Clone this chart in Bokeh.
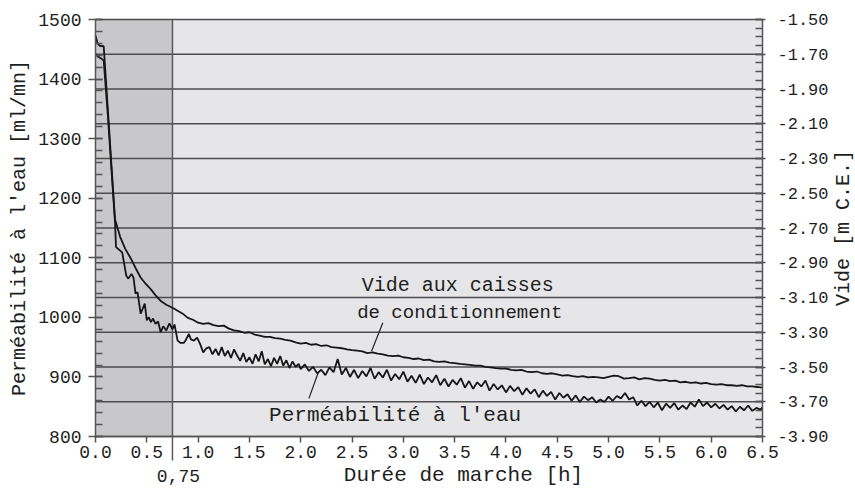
import math
from bokeh.plotting import figure
from bokeh.models import (Range1d, LinearAxis, FixedTicker, PrintfTickFormatter,
                          BoxAnnotation, Label)
from bokeh.embed import file_html
from bokeh.resources import INLINE

# ---------------- data ----------------
x_ticks = [0.0, 0.5, 1.0, 1.5, 2.0, 2.5, 3.0, 3.5, 4.0, 4.5, 5.0, 5.5, 6.0, 6.5]
perm_ticks = [800, 900, 1000, 1100, 1200, 1300, 1400, 1500]
vide_ticks = [-3.90, -3.70, -3.50, -3.30, -3.10, -2.90, -2.70, -2.50,
              -2.30, -2.10, -1.90, -1.70, -1.50]
split_h = 0.75          # boundary of the shaded start-up zone
split_label = "0,75"

# Perméabilité à l'eau [ml/mn]
perm_h = [0.00, 0.03, 0.06, 0.08, 0.12, 0.16, 0.19, 0.20, 0.26, 0.30,
          0.32, 0.35, 0.37, 0.39, 0.41, 0.44, 0.48, 0.50, 0.52, 0.54,
          0.56, 0.585, 0.61, 0.635, 0.66, 0.69, 0.72, 0.75, 0.77, 0.80,
          0.83, 0.86, 0.88, 0.91, 0.93, 0.96, 0.99,
          1.02, 1.05, 1.08, 1.11, 1.14, 1.17, 1.20, 1.23, 1.26, 1.29,
          1.32, 1.35, 1.38, 1.41, 1.44, 1.47, 1.50, 1.53, 1.56, 1.59,
          1.62, 1.65, 1.68, 1.71, 1.74, 1.77, 1.80, 1.83, 1.86, 1.89,
          1.92, 1.95, 1.98,
          2.00, 2.04, 2.08, 2.12, 2.16, 2.20, 2.24, 2.28, 2.32, 2.36,
          2.40, 2.44, 2.48, 2.52, 2.56, 2.60, 2.64, 2.68, 2.72, 2.76,
          2.80, 2.84, 2.88, 2.92, 2.96, 3.00, 3.04, 3.08, 3.12, 3.16,
          3.20, 3.24, 3.28, 3.32, 3.36, 3.40, 3.44, 3.48, 3.52, 3.56,
          3.60, 3.64, 3.68, 3.72, 3.76, 3.80, 3.84, 3.88, 3.92, 3.96,
          4.00, 4.04, 4.08, 4.12, 4.16, 4.20, 4.24, 4.28, 4.32, 4.36,
          4.40, 4.44, 4.48, 4.52, 4.56, 4.60, 4.64, 4.68, 4.72, 4.76,
          4.80, 4.84, 4.88, 4.92, 4.96, 5.00, 5.04, 5.08, 5.12, 5.16,
          5.20, 5.24, 5.28, 5.32, 5.36, 5.40, 5.44, 5.48, 5.52, 5.56,
          5.60, 5.64, 5.68, 5.72, 5.76, 5.80, 5.84, 5.88, 5.92, 5.96,
          6.00, 6.04, 6.08, 6.12, 6.16, 6.20, 6.24, 6.28, 6.32, 6.36,
          6.40, 6.44, 6.48, 6.50]
perm_ml = [1442, 1437, 1434, 1431, 1340, 1236, 1160, 1118, 1109, 1070,
           1065, 1073, 1067, 1040, 1042, 1006, 1023, 995, 1000, 992,
           998, 989, 993, 975, 985, 978, 990, 980, 988, 961,
           957, 957, 962, 972, 963, 961, 966,
           955, 941, 948, 950, 938, 947, 936, 950, 935, 944,
           932, 946, 936, 927, 940, 925, 933, 922, 938, 926,
           943, 921, 930, 918, 932, 922, 935, 919, 928, 915,
           926, 917, 922,
           913, 921, 910, 917, 906, 912, 903, 916, 908, 930,
           904, 915, 900, 912, 898, 910, 901, 915, 897, 908,
           899, 912, 894, 905, 896, 909, 892, 902, 890, 904,
           888, 899, 891, 903, 886, 897, 884, 895, 887, 898,
           882, 893, 880, 891, 884, 894, 877, 888, 879, 886,
           874, 885, 876, 883, 870, 881, 872, 879, 866, 877,
           868, 875, 862, 873, 865, 871, 860, 869, 858, 867,
           861, 866, 857, 862, 858, 867, 860, 868, 864, 873,
           862, 866, 852, 860, 851, 858, 849, 857, 844, 855,
           848, 856, 845, 852, 846, 857, 850, 862, 851, 857,
           849, 855, 847, 853, 845, 851, 842, 850, 844, 852,
           843, 848, 845, 849]

# Vide aux caisses de conditionnement [m C.E.]
vide_h = [0.00, 0.02, 0.04, 0.08, 0.12, 0.16, 0.19, 0.24, 0.29, 0.34,
          0.39, 0.44, 0.49, 0.54, 0.59, 0.64, 0.69, 0.75,
          0.80, 0.85, 0.90, 0.95, 1.00, 1.05, 1.10, 1.15, 1.20, 1.25,
          1.30, 1.35, 1.40, 1.45, 1.50, 1.55, 1.60, 1.65, 1.70, 1.75,
          1.80, 1.85, 1.90, 1.95, 2.00, 2.05, 2.10, 2.15, 2.20, 2.25,
          2.30, 2.35, 2.40, 2.45, 2.50, 2.55, 2.60, 2.65, 2.70, 2.75,
          2.80, 2.85, 2.90, 2.95, 3.00, 3.05, 3.10, 3.15, 3.20, 3.25,
          3.30, 3.35, 3.40, 3.45, 3.50, 3.55, 3.60, 3.65, 3.70, 3.75,
          3.80, 3.85, 3.90, 3.95, 4.00, 4.05, 4.10, 4.15, 4.20, 4.25,
          4.30, 4.35, 4.40, 4.45, 4.50, 4.55, 4.60, 4.65, 4.70, 4.75,
          4.80, 4.85, 4.90, 4.95, 5.00, 5.05, 5.10, 5.15, 5.20, 5.25,
          5.30, 5.35, 5.40, 5.45, 5.50, 5.55, 5.60, 5.65, 5.70, 5.75,
          5.80, 5.85, 5.90, 5.95, 6.00, 6.05, 6.10, 6.15, 6.20, 6.25,
          6.30, 6.35, 6.40, 6.45, 6.50]
vide_m = [-1.593, -1.637, -1.651, -1.654, -2.014, -2.378, -2.649, -2.751, -2.820, -2.871,
          -2.930, -2.985, -3.022, -3.053, -3.091, -3.122, -3.142, -3.159,
          -3.176, -3.193, -3.217, -3.228, -3.245, -3.252, -3.248, -3.259, -3.265, -3.262,
          -3.279, -3.289, -3.293, -3.303, -3.300, -3.313, -3.320, -3.327, -3.327, -3.334,
          -3.337, -3.344, -3.348, -3.358, -3.365, -3.361, -3.372, -3.368, -3.379, -3.375,
          -3.386, -3.389, -3.392, -3.399, -3.403, -3.406, -3.410, -3.420, -3.416, -3.423,
          -3.427, -3.434, -3.437, -3.434, -3.444, -3.447, -3.454, -3.451, -3.461, -3.458,
          -3.468, -3.471, -3.468, -3.475, -3.478, -3.482, -3.485, -3.488, -3.492, -3.492,
          -3.499, -3.502, -3.506, -3.509, -3.509, -3.516, -3.519, -3.516, -3.526, -3.530,
          -3.526, -3.536, -3.540, -3.536, -3.543, -3.550, -3.547, -3.553, -3.557, -3.553,
          -3.560, -3.557, -3.560, -3.564, -3.557, -3.550, -3.553, -3.567, -3.564, -3.560,
          -3.571, -3.564, -3.567, -3.574, -3.578, -3.574, -3.581, -3.578, -3.588, -3.585,
          -3.591, -3.588, -3.595, -3.591, -3.598, -3.602, -3.598, -3.605, -3.605, -3.609,
          -3.605, -3.612, -3.612, -3.615, -3.619]

# ---------------- layout (pixels inside the figure) ----------------
W, H = 854, 487
PLOT_L, PLOT_R = 95, 762      # data area left / right edge
PLOT_T, PLOT_B = 19, 436      # data area top / bottom edge
X0, X1 = x_ticks[0], x_ticks[-1]
Y0, Y1 = perm_ticks[0], perm_ticks[-1]
V0, V1 = vide_ticks[0], vide_ticks[-1]
ppx = (PLOT_R - PLOT_L) / (X1 - X0)
ppy = (PLOT_B - PLOT_T) / (Y1 - Y0)
vpm = (V1 - V0) / (Y1 - Y0)   # vide units per ml unit (shared vertical scale)

x_lo, x_hi = X0 - PLOT_L / ppx, X1 + (W - PLOT_R) / ppx
y_lo, y_hi = Y0 - (H - PLOT_B) / ppy, Y1 + PLOT_T / ppy


def dx(px):  # pixel offset -> x data offset
    return px / ppx


def dy(px):  # pixel offset -> y data offset
    return px / ppy


FONT = "Liberation Mono"
TXT = "#1e1e1e"
AXC = "#555555"

p = figure(width=W, height=H, output_backend="svg", toolbar_location=None,
           x_range=Range1d(x_lo, x_hi), y_range=Range1d(y_lo, y_hi),
           min_border=0, min_border_left=0, min_border_right=0,
           min_border_top=0, min_border_bottom=0,
           background_fill_color="white", border_fill_color="white",
           outline_line_color=None)
p.extra_y_ranges = {"vide": Range1d(V0 - (Y0 - y_lo) * vpm, V1 + (y_hi - Y1) * vpm)}
p.xgrid.visible = False
p.ygrid.visible = False

# backgrounds: shaded start-up zone and the rest
p.add_layout(BoxAnnotation(left=X0, right=split_h, bottom=Y0, top=Y1,
                           fill_color="#c8c8ca", fill_alpha=1.0,
                           line_alpha=0, level="underlay"))
p.add_layout(BoxAnnotation(left=split_h, right=X1, bottom=Y0, top=Y1,
                           fill_color="#e6e6e8", fill_alpha=1.0,
                           line_alpha=0, level="underlay"))

# horizontal grid lines at the vide ticks
p.segment(x0=X0, x1=X1, y0=vide_ticks, y1=vide_ticks, y_range_name="vide",
          line_color="#4d4d4d", line_width=1.4)
# boundary line at 0,75 h, continued below the axis
p.segment(x0=[split_h], x1=[split_h], y0=[Y1], y1=[Y0 - dy(24)],
          line_color="#5a5a5a", line_width=1.5)

# bottom axis
xa = p.xaxis[0]
xa.fixed_location = Y0
xa.bounds = (X0, X1)
xa.ticker = FixedTicker(ticks=x_ticks, minor_ticks=[])
xa.formatter = PrintfTickFormatter(format="%.1f")
xa.major_tick_in = 0
xa.major_tick_out = 6
xa.major_label_standoff = 3
xa.axis_line_color = AXC
xa.axis_line_width = 1.5
xa.major_tick_line_color = AXC
xa.major_tick_line_width = 1.5
xa.major_label_text_font = FONT
xa.major_label_text_font_size = "18px"
xa.major_label_text_color = TXT

# left axis
ya = p.yaxis[0]
ya.fixed_location = X0
ya.bounds = (Y0, Y1)
ya.ticker = FixedTicker(ticks=perm_ticks, minor_ticks=list(range(800, 1501, 20)))
ya.major_tick_in = 7
ya.major_tick_out = 7
ya.minor_tick_in = 7
ya.minor_tick_out = 0
ya.major_label_standoff = 7
ya.axis_line_color = AXC
ya.axis_line_width = 1.5
ya.major_tick_line_color = AXC
ya.major_tick_line_width = 1.5
ya.minor_tick_line_color = AXC
ya.minor_tick_line_width = 1.5
ya.major_label_text_font = FONT
ya.major_label_text_font_size = "18px"
ya.major_label_text_color = TXT

# right axis (vide)
vide_minor = [round(V0 + 0.05 * i, 2) for i in range(49)]
ra = LinearAxis(y_range_name="vide", fixed_location=X1, bounds=(V0, V1),
                ticker=FixedTicker(ticks=vide_ticks, minor_ticks=vide_minor),
                formatter=PrintfTickFormatter(format="%.2f"))
ra.major_tick_in = 7
ra.major_tick_out = 3
ra.minor_tick_in = 7
ra.minor_tick_out = 0
ra.major_label_standoff = 12
ra.axis_line_color = AXC
ra.axis_line_width = 1.5
ra.major_tick_line_color = AXC
ra.major_tick_line_width = 1.5
ra.minor_tick_line_color = AXC
ra.minor_tick_line_width = 1.5
ra.major_label_text_font = FONT
ra.major_label_text_font_size = "17px"
ra.major_label_text_color = TXT
p.add_layout(ra, "right")

# curves
p.line(vide_h, vide_m, y_range_name="vide", line_color="#161616", line_width=1.8)
p.line(perm_h, perm_ml, line_color="#161616", line_width=1.8)


def lab(**kw):
    base = dict(text_font=FONT, text_color=TXT, text_align="center",
                text_baseline="middle")
    base.update(kw)
    p.add_layout(Label(**base))


# curve annotations with leader lines
lab(x=3.53, y=1053, text="Vide aux caisses", text_font_size="20px")
lab(x=3.55, y=1008, text="de conditionnement", text_font_size="19px")
lab(x=2.92, y=835, text="Perméabilité à l'eau", text_font_size="21px")
p.segment(x0=[2.80, 2.08], y0=[991, 864], x1=[2.69, 2.17], y1=[943, 907],
          line_color="#222222", line_width=1.2)

# axis titles and the 0,75 mark
lab(x=split_h, y=Y0 - dy(39), x_offset=6, text=split_label, text_font_size="18px")
lab(x=X0 + dx(368), y=Y0 - dy(39), text="Durée de marche [h]", text_font_size="21px")
lab(x=X0 - dx(76), y=(Y0 + Y1) / 2, angle=math.pi / 2,
    text="Perméabilité à l'eau [ml/mn]", text_font_size="20px")
lab(x=X1 + dx(81), y=(Y0 + Y1) / 2, angle=math.pi / 2,
    text="Vide [m C.E.]", text_font_size="20px")

open("out.html", "w").write(file_html(p, INLINE))
